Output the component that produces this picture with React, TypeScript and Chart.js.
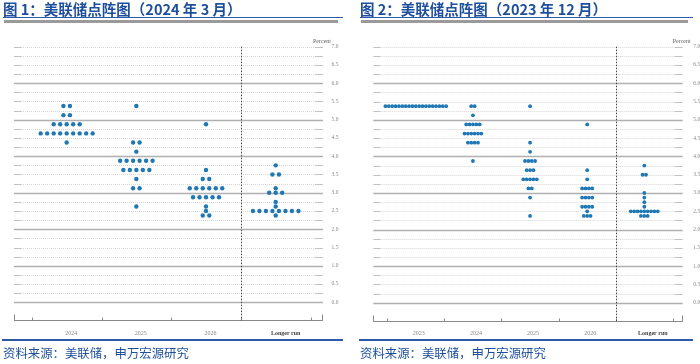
import React, { useEffect, useRef } from 'react';
import { Chart, registerables } from 'chart.js';
Chart.register(...registerables);

// ---------- data ----------
const categories1 = ['2024', '2025', '2026', 'Longer run'];
const categories2 = ['2023', '2024', '2025', '2026', 'Longer run'];
const yTickLabels = ['0.0', '0.5', '1.0', '1.5', '2.0', '2.5', '3.0', '3.5', '4.0', '4.5', '5.0', '5.5', '6.0', '6.5', '7.0'];

// Figure 1: March 2024 SEP
const mar24_2024_rates = [5.375, 5.125, 4.875, 4.625, 4.375];
const mar24_2024_counts = [2, 2, 5, 9, 1];
const mar24_2025_rates = [5.375, 4.375, 4.125, 3.875, 3.625, 3.375, 3.125, 2.625];
const mar24_2025_counts = [1, 2, 1, 6, 5, 1, 2, 1];
const mar24_2026_rates = [4.875, 3.625, 3.375, 3.125, 2.875, 2.625, 2.5, 2.375];
const mar24_2026_counts = [1, 1, 2, 6, 5, 1, 1, 2];
const mar24_lr_rates = [3.75, 3.5, 3.125, 3.0, 2.75, 2.625, 2.5, 2.375];
const mar24_lr_counts = [1, 2, 1, 3, 1, 1, 8, 1];

// Figure 2: December 2023 SEP
const dec23_2023_rates = [5.375];
const dec23_2023_counts = [19];
const dec23_2024_rates = [5.375, 5.125, 4.875, 4.625, 4.375, 3.875];
const dec23_2024_counts = [2, 1, 5, 6, 4, 1];
const dec23_2025_rates = [5.375, 4.375, 4.125, 3.875, 3.625, 3.375, 3.125, 2.875, 2.375];
const dec23_2025_counts = [1, 1, 1, 4, 3, 5, 2, 1, 1];
const dec23_2026_rates = [4.875, 3.625, 3.375, 3.125, 2.875, 2.625, 2.5, 2.375];
const dec23_2026_counts = [1, 1, 1, 4, 4, 4, 1, 3];
const dec23_lr_rates = [3.75, 3.5, 3.0, 2.875, 2.75, 2.625, 2.5, 2.375];
const dec23_lr_counts = [1, 2, 1, 1, 1, 1, 9, 3];

const fig1Rates = [mar24_2024_rates, mar24_2025_rates, mar24_2026_rates, mar24_lr_rates];
const fig1Counts = [mar24_2024_counts, mar24_2025_counts, mar24_2026_counts, mar24_lr_counts];
const fig2Rates = [dec23_2023_rates, dec23_2024_rates, dec23_2025_rates, dec23_2026_rates, dec23_lr_rates];
const fig2Counts = [dec23_2023_counts, dec23_2024_counts, dec23_2025_counts, dec23_2026_counts, dec23_lr_counts];

const BLUE = '#1e4f9c';
const DOT = '#1f78b4';
const SERIF = '"Liberation Serif", "DejaVu Serif", serif';

function buildPoints(rates: number[][], counts: number[][], step: number) {
  const pts: { x: number; y: number }[] = [];
  rates.forEach((rs, c) => {
    rs.forEach((r, j) => {
      const n = counts[c][j];
      for (let i = 0; i < n; i++) {
        pts.push({ x: c + (i - (n - 1) / 2) * step, y: r });
      }
    });
  });
  return pts;
}

function decorPlugin(cats: string[], labelDx: number, lrDx: number, tickDx: number) {
  return {
    id: 'decor',
    beforeDatasetsDraw(chart: any) {
      const { ctx, chartArea: a, scales } = chart;
      const x = scales.x;
      const y = scales.y;
      ctx.save();
      // horizontal grid every 0.25
      for (let k = 0; k <= 28; k++) {
        const v = k * 0.25;
        const py = Math.round(y.getPixelForValue(v)) + 0.5;
        const major = k % 4 === 0 && k < 28;
        if (major) {
          ctx.setLineDash([]);
          ctx.strokeStyle = '#b0b0b0';
          ctx.lineWidth = 1.5;
          ctx.beginPath();
          ctx.moveTo(a.left, py);
          ctx.lineTo(a.right, py);
          ctx.stroke();
        } else {
          ctx.setLineDash([1, 1]);
          ctx.strokeStyle = '#d6d6d6';
          ctx.lineWidth = 1;
          ctx.beginPath();
          ctx.moveTo(a.left + 7, py);
          ctx.lineTo(a.right - 8, py);
          ctx.stroke();
          ctx.setLineDash([]);
          ctx.strokeStyle = '#c2c2c2';
          ctx.beginPath();
          ctx.moveTo(a.left, py);
          ctx.lineTo(a.left + 7, py);
          ctx.moveTo(a.right - 8, py);
          ctx.lineTo(a.right, py);
          ctx.stroke();
        }
      }
      // right tick labels
      ctx.fillStyle = '#8a8a8a';
      ctx.font = `5.5px ${SERIF}`;
      ctx.textAlign = 'center';
      ctx.textBaseline = 'middle';
      yTickLabels.forEach((t) => {
        ctx.fillText(t, a.right + tickDx, y.getPixelForValue(parseFloat(t)));
      });
      ctx.fillStyle = '#666';
      ctx.font = `6px ${SERIF}`;
      ctx.fillText('Percent', a.right - 1, a.top - 5);

      // x axis
      const by = Math.round(a.bottom) + 0.5;
      ctx.setLineDash([]);
      ctx.strokeStyle = '#8a8a8a';
      ctx.lineWidth = 1;
      ctx.beginPath();
      ctx.moveTo(a.left, by);
      ctx.lineTo(a.right, by);
      ctx.moveTo(Math.round(a.left) + 0.5, by - 6);
      ctx.lineTo(Math.round(a.left) + 0.5, by);
      ctx.moveTo(Math.round(a.right) - 0.5, by - 6);
      ctx.lineTo(Math.round(a.right) - 0.5, by);
      for (let b = 0; b <= cats.length; b++) {
        const px = Math.round(x.getPixelForValue(b - 0.5)) + 0.5;
        ctx.moveTo(px, by - 3);
        ctx.lineTo(px, by);
      }
      ctx.stroke();

      // dashed separator before "Longer run"
      const sx = Math.round(x.getPixelForValue(cats.length - 1.5)) + 0.5;
      ctx.setLineDash([1.5, 1.5]);
      ctx.strokeStyle = '#444';
      ctx.beginPath();
      ctx.moveTo(sx, a.top);
      ctx.lineTo(sx, by);
      ctx.stroke();
      ctx.setLineDash([]);

      // category labels
      ctx.textBaseline = 'middle';
      cats.forEach((c, i) => {
        const last = i === cats.length - 1;
        ctx.fillStyle = last ? '#444' : '#888';
        ctx.font = `${last ? 'bold ' : ''}6px ${SERIF}`;
        ctx.fillText(c, x.getPixelForValue(i) + (last ? lrDx : labelDx), a.bottom + 13);
      });
      ctx.restore();
    },
  };
}

function DotChart(props: {
  cats: string[];
  rates: number[][];
  counts: number[][];
  step: number;
  xmin: number;
  xmax: number;
  padding: { left: number; right: number; top: number; bottom: number };
  radius: number;
  labelDx: number;
  lrDx: number;
  tickDx: number;
  left: number;
}) {
  const ref = useRef<HTMLCanvasElement | null>(null);
  useEffect(() => {
    if (!ref.current) return;
    const chart = new Chart(ref.current, {
      type: 'scatter',
      data: {
        datasets: [
          {
            data: buildPoints(props.rates, props.counts, props.step),
            backgroundColor: DOT,
            borderWidth: 0,
            pointRadius: props.radius,
          },
        ],
      },
      options: {
        animation: false,
        responsive: false,
        devicePixelRatio: 1,
        layout: { padding: props.padding, autoPadding: false },
        plugins: { legend: { display: false }, tooltip: { enabled: false } },
        scales: {
          x: { type: 'linear', min: props.xmin, max: props.xmax, display: false },
          y: { type: 'linear', min: -0.485, max: 7, display: false },
        },
      } as any,
      plugins: [decorPlugin(props.cats, props.labelDx, props.lrDx, props.tickDx)],
    });
    return () => chart.destroy();
  }, []);
  return (
    <canvas
      ref={ref}
      width={350}
      height={364}
      style={{ position: 'absolute', left: props.left, top: 0, width: 350, height: 364 }}
    />
  );
}

const titleStyle: React.CSSProperties = {
  position: 'absolute',
  top: 0,
  fontFamily: '"Noto Sans CJK SC", sans-serif',
  fontWeight: 700,
  fontSize: 14.5,
  lineHeight: '17px',
  color: BLUE,
  whiteSpace: 'nowrap',
};
const footStyle: React.CSSProperties = {
  position: 'absolute',
  top: 344,
  fontFamily: '"Noto Sans CJK SC", sans-serif',
  fontSize: 12.4,
  lineHeight: '18px',
  color: BLUE,
  whiteSpace: 'nowrap',
};

function Frame(props: { left: number; width: number; title: string }) {
  return (
    <>
      <div style={{ ...titleStyle, left: props.left }}>{props.title}</div>
      <div style={{ position: 'absolute', left: props.left, top: 16.5, width: props.width, height: 1.5, background: '#2c5aa8' }} />
      <div style={{ position: 'absolute', left: props.left + 1, top: 20, width: props.width - 6, height: 2.5, background: '#9a9a9a' }} />
      <div style={{ position: 'absolute', left: props.left - 1, top: 338.5, width: props.width + 1, height: 2, background: '#2c5aa8' }} />
      <div style={{ ...footStyle, left: props.left }}>资料来源：美联储，申万宏源研究</div>
    </>
  );
}

export default function App() {
  return (
    <div style={{ position: 'absolute', left: 0, top: 0, width: 700, height: 364, background: '#fff', overflow: 'hidden' }}>
      <DotChart
        cats={categories1}
        rates={fig1Rates}
        counts={fig1Counts}
        step={0.0933}
        xmin={-0.756}
        xmax={3.679}
        padding={{ left: 14, right: 27, top: 46.7, bottom: 44 }}
        radius={2.2}
        labelDx={4.5}
        lrDx={10}
        tickDx={12}
        left={0}
      />
      <DotChart
        cats={categories2}
        rates={fig2Rates}
        counts={fig2Counts}
        step={0.059}
        xmin={-0.744}
        xmax={4.672}
        padding={{ left: 23.3, right: 17.3, top: 46.7, bottom: 43.5 }}
        radius={1.9}
        labelDx={3}
        lrDx={8.5}
        tickDx={14}
        left={350}
      />
      <Frame left={3} width={340} title="图 1：美联储点阵图（2024 年 3 月）" />
      <Frame left={360} width={333} title="图 2：美联储点阵图（2023 年 12 月）" />
    </div>
  );
}
